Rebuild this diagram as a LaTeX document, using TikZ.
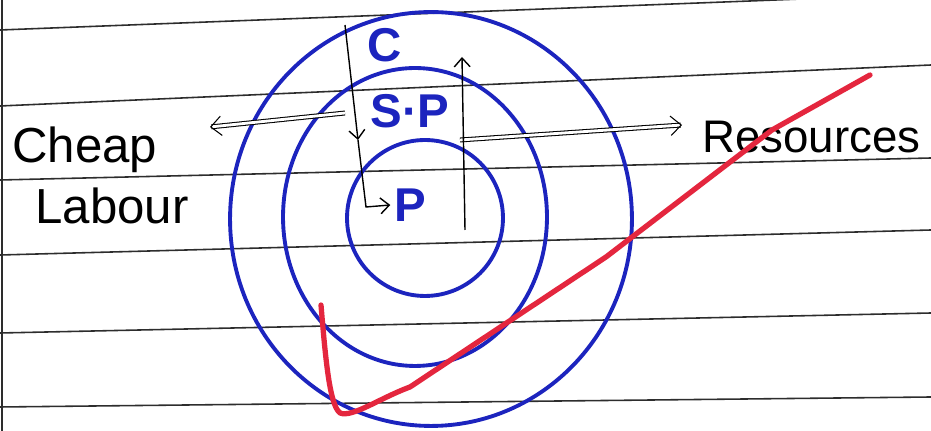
\documentclass[tikz,border=0pt]{standalone}
\usepackage{fontspec}
\setmainfont{Liberation Sans}
\usetikzlibrary{arrows.meta}

\definecolor{penblue}{RGB}{28,36,190}
\definecolor{penred}{RGB}{228,38,62}
\definecolor{ruleink}{RGB}{45,45,45}

\begin{document}
\begin{tikzpicture}[x=0.02cm, y=-0.02cm,
		ring/.style={draw=penblue, line width=2.2pt},
		ringlabel/.style={text=penblue, font=\bfseries\fontsize{27}{29}\selectfont, inner sep=0pt},
		word/.style={font=\fontsize{28}{30}\selectfont, inner sep=0pt, anchor=west},
		rule/.style={draw=ruleink, line width=0.9pt},
		flow/.style={line width=0.8pt, -{Straight Barb[length=5pt, width=9pt]}},
		wide/.style={double, double distance=1.6pt, line width=0.6pt, -{Straight Barb[length=6pt, width=11pt]}}
	]
			
			% Page
			\fill[white] (0,0) rectangle (931,431);
			\useasboundingbox (0,0) rectangle (931,431);
			\clip (0,0) rectangle (931,431);
			
			% Ruled lines of the notebook
			\draw[rule] (0,30) -- (931,-6);
			\draw[rule] (0,106) -- (931,65);
			\draw[rule] (0,180) -- (931,158);
			\draw[rule] (0,255) -- (931,230);
			\draw[rule] (0,333) -- (931,313);
			\draw[rule] (0,407) -- (931,397);
			\draw[rule] (2,0) -- (2,431);
			
			% Rings
			\draw[ring] (431,219) ellipse [x radius=4.02cm, y radius=4.14cm];
			\draw[ring] (415,217) ellipse [x radius=2.64cm, y radius=2.98cm];
			\draw[ring] (425,218) ellipse [x radius=1.56cm, y radius=1.56cm];
			
			% Ring labels
			\node[ringlabel] (c) at (385,45) {C};
			\node[ringlabel] (sp) at (410,111) {S·P};
			\node[ringlabel] (p) at (410,205) {P};
			
			% Side words
			\node[word] (cheap) at (12,150) {Cheap};
			\node[word] (labour) at (35,206) {Labour};
			\node[word, font=\fontsize{26}{28}\selectfont] (res) at (702,137) {Resources};
			
			% Double arrows out to the sides
			\coordinate (ltail) at (345,113);
			\coordinate (lhead) at (210,127);
			\draw[wide] (ltail) -- (lhead);
			
			\coordinate (rtail) at (460,140);
			\coordinate (rhead) at (682,125);
			\draw[wide] (rtail) -- (rhead);
			
			% Arrow down through the rings
			\coordinate (dtop) at (345,25);
			\coordinate (dmid) at (358,140);
			\coordinate (dbend) at (366,207);
			\draw[flow] (dtop) -- (dmid);
			\draw[flow] (dmid) -- (dbend) -- ([xshift=-2pt]p.west);
			
			% Arrow up
			\coordinate (ubot) at (465,230);
			\coordinate (utop) at (462,57);
			\draw[flow] (ubot) -- (utop);
			
			% Red tick
			\draw[penred, line width=3pt, line cap=round, line join=round]
				(321,305) .. controls (326,365) and (330,405) .. (340,413)
				.. controls (352,418) and (380,398) .. (410,387)
				-- (606,257) -- (772,130) -- (870,75);
			
		\end{tikzpicture}
\end{document}
